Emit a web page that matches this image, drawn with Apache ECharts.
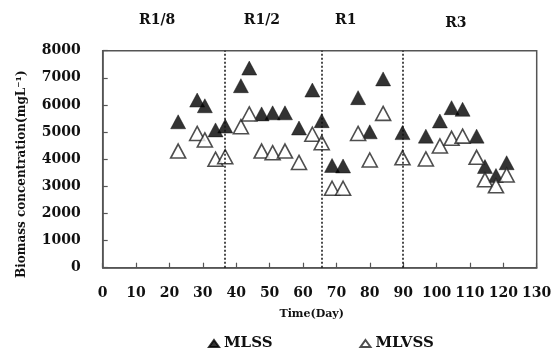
<!DOCTYPE html>
<html>
<head>
<meta charset="utf-8">
<script src="https://cdn.jsdelivr.net/npm/echarts@6/dist/echarts.min.js"></script>
<style>html,body{margin:0;padding:0;background:#fff}#c{width:556px;height:354px}</style>
</head>
<body>
<div id="c"></div>
<script>
// ---- data ----
var days   = [22.6, 28.3, 30.6, 33.8, 36.7, 41.4, 43.9, 47.6, 50.9, 54.6, 58.8, 62.8, 65.6, 68.7, 72.0, 76.5, 80.0, 84.0, 89.8, 96.8, 101.0, 104.5, 107.8, 112.0, 114.5, 117.8, 121.0];
var mlss   = [5380, 6180, 5970, 5080, 5220, 6710, 7360, 5670, 5710, 5710, 5150, 6550, 5420, 3770, 3750, 6270, 5010, 6960, 4980, 4850, 5410, 5900, 5840, 4850, 3730, 3400, 3870];
var mlvss  = [4300, 4950, 4710, 4000, 4090, 5200, 5670, 4300, 4240, 4300, 3880, 4920, 4610, 2930, 2930, 4950, 3970, 5690, 4050, 4010, 4490, 4770, 4850, 4070, 3240, 3020, 3420];
var dividers = [36.6, 65.6, 90];
var periodNames = ['R1/8', 'R1/2', 'R1', 'R3'];
var periodCenters = [16.3, 47.7, 72.8, 105.8];
var xTicks = [0, 130, 10];     // min, max, interval
var yTicks = [0, 8000, 1000];  // min, max, interval

function pairs(xs, ys){ return xs.map(function(x,i){ return [x, ys[i]]; }); }

var FONT = 'DejaVu Serif';
var chart = echarts.init(document.getElementById('c'), null, {renderer:'canvas'});
var axisCommon = {
  axisLine:{show:true, lineStyle:{color:'#555', width:1.5}},
  axisTick:{show:true, inside:true, length:5, lineStyle:{color:'#555', width:1.2}},
  splitLine:{show:false},
  axisLabel:{color:'#111', fontFamily:FONT, fontWeight:'bold', fontSize:14, formatter:function(v){ return String(v); }}
};
chart.setOption({
  animation:false,
  backgroundColor:'#fff',
  grid:{left:102.7, right:19.3, top:50.7, bottom:86.3, show:true, borderColor:'#555', borderWidth:1.5},
  xAxis: Object.assign({}, axisCommon, {
    type:'value', min:xTicks[0], max:xTicks[1], interval:xTicks[2],
    axisLabel:Object.assign({}, axisCommon.axisLabel, {margin:19}),
    name:'Time(Day)', nameLocation:'middle', nameGap:41,
    nameTextStyle:{color:'#111', fontFamily:FONT, fontWeight:'bold', fontSize:11, padding:[0,16,0,0]}
  }),
  yAxis: Object.assign({}, axisCommon, {
    type:'value', min:yTicks[0], max:yTicks[1], interval:yTicks[2],
    axisLabel:Object.assign({}, axisCommon.axisLabel, {margin:22}),
    name:'Biomass concentration(mgL\u207B\u00B9)', nameLocation:'middle', nameGap:75,
    nameTextStyle:{color:'#111', fontFamily:FONT, fontWeight:'bold', fontSize:12, padding:[0,30,0,0]}
  }),
  legend:{
    data:['MLSS','MLVSS'], left:203, bottom:-2, itemGap:87,
    icon:'triangle', itemWidth:10, itemHeight:7,
    textStyle:{color:'#111', fontFamily:FONT, fontWeight:'bold', fontSize:15}
  },
  series:[
    {name:'MLSS', type:'scatter', symbol:'triangle', symbolSize:[15,14], z:2,
     itemStyle:{color:'#000', borderColor:'#000', borderWidth:0.5},
     data:pairs(days, mlss)},
    {name:'MLVSS', type:'scatter', symbol:'triangle', symbolSize:[15,14], z:3,
     itemStyle:{color:'#fff', borderColor:'#222', borderWidth:1.6},
     data:pairs(days, mlvss)},
    {name:'dividers', type:'line', data:[], z:5, silent:true,
     markLine:{silent:true, symbol:['none','none'], label:{show:false},
       lineStyle:{color:'#111', type:[2,2], width:1.5},
       data:dividers.map(function(d){ return {xAxis:d}; })}}
  ]
});
var gfx = periodNames.map(function(n,i){
  var px = chart.convertToPixel({xAxisIndex:0}, periodCenters[i]);
  return {type:'text', x:px, y:(i===3?23:20),
    style:{text:n, fill:'#111', font:'bold 14px "'+FONT+'"', textAlign:'center', textVerticalAlign:'middle'}};
});
chart.setOption({graphic:gfx});
</script>
</body>
</html>
